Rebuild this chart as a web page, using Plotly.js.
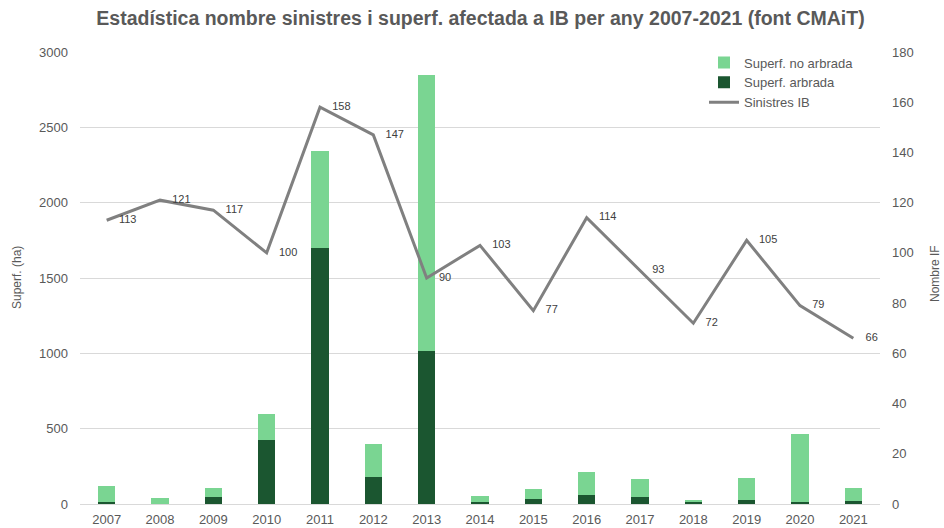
<!DOCTYPE html>
<html><head><meta charset="utf-8">
<script src="https://cdn.plot.ly/plotly-3.0.1.min.js"></script>
<style>body{margin:0;background:#fff}#c{width:944px;height:528px}</style>
</head><body><div id="c"></div>
<script>
const years = ['2007','2008','2009','2010','2011','2012','2013','2014','2015','2016','2017','2018','2019','2020','2021'];
const superfArbrada = [15, 2, 44, 427, 1700, 181, 1016, 11, 31, 60, 44, 13, 27, 11, 22];
const superfNoArbrada = [105, 36, 60, 171, 644, 217, 1830, 42, 69, 152, 124, 16, 148, 452, 82];
const sinistres = [113, 121, 117, 100, 158, 147, 90, 103, 77, 114, 93, 72, 105, 79, 66];

const txt = '#595959';
const traces = [
  {type:'bar', x:years, y:superfArbrada, name:'Superf. arbrada', marker:{color:'#1b5630'}, legendrank:2, hoverinfo:'y'},
  {type:'bar', x:years, y:superfNoArbrada, name:'Superf. no arbrada', marker:{color:'#7ad592'}, legendrank:1, hoverinfo:'y'},
  {type:'scatter', mode:'lines+markers+text', x:years, y:sinistres, yaxis:'y2', name:'Sinistres IB',
   line:{color:'#808080', width:3}, marker:{size:18, color:'rgba(0,0,0,0)'},
   text:sinistres.map(String), textposition:'middle right', textfont:{size:11, color:'#404040'}, legendrank:3}
];
const layout = {
  width:944, height:528,
  margin:{l:80, r:64, t:52, b:24},
  paper_bgcolor:'#fff', plot_bgcolor:'#fff',
  font:{family:'Liberation Sans, Arial, sans-serif', color:txt, size:13},
  title:{text:'<b>Estadística nombre sinistres i superf. afectada a IB per any 2007-2021 (font CMAiT)</b>',
         x:0.509, xanchor:'center', y:0.965, yanchor:'middle', font:{size:19.5, color:txt}},
  barmode:'stack', bargap:0.68,
  xaxis:{type:'category', range:[-0.5, 14.5], showgrid:false, showline:true, linecolor:'#d9d9d9', linewidth:1, ticks:'',
         tickfont:{size:13, color:txt}, automargin:false, ticklabelstandoff:3},
  yaxis:{range:[0,3000], dtick:500, gridcolor:'#d9d9d9', zeroline:false, tickfont:{size:13, color:txt},
         automargin:false, ticklabelstandoff:11},
  yaxis2:{range:[0,180], dtick:20, overlaying:'y', side:'right', showgrid:false, zeroline:false,
          tickfont:{size:13, color:txt}, automargin:false, ticklabelstandoff:11},
  legend:{x:0.78, y:1.01, xanchor:'left', yanchor:'top', bgcolor:'#fff', font:{size:13, color:txt},
          traceorder:'normal', tracegroupgap:2},
  annotations:[
    {text:'Superf. (ha)', xref:'paper', yref:'paper', x:(17-80)/800, y:(504-278)/452, xanchor:'center', yanchor:'middle',
     textangle:-90, showarrow:false, font:{size:12, color:txt}},
    {text:'Nombre IF', xref:'paper', yref:'paper', x:(935-80)/800, y:(504-274)/452, xanchor:'center', yanchor:'middle',
     textangle:-90, showarrow:false, font:{size:12, color:txt}}
  ],
  showlegend:true
};
Plotly.newPlot('c', traces, layout, {displayModeBar:false, staticPlot:true});
</script></body></html>
